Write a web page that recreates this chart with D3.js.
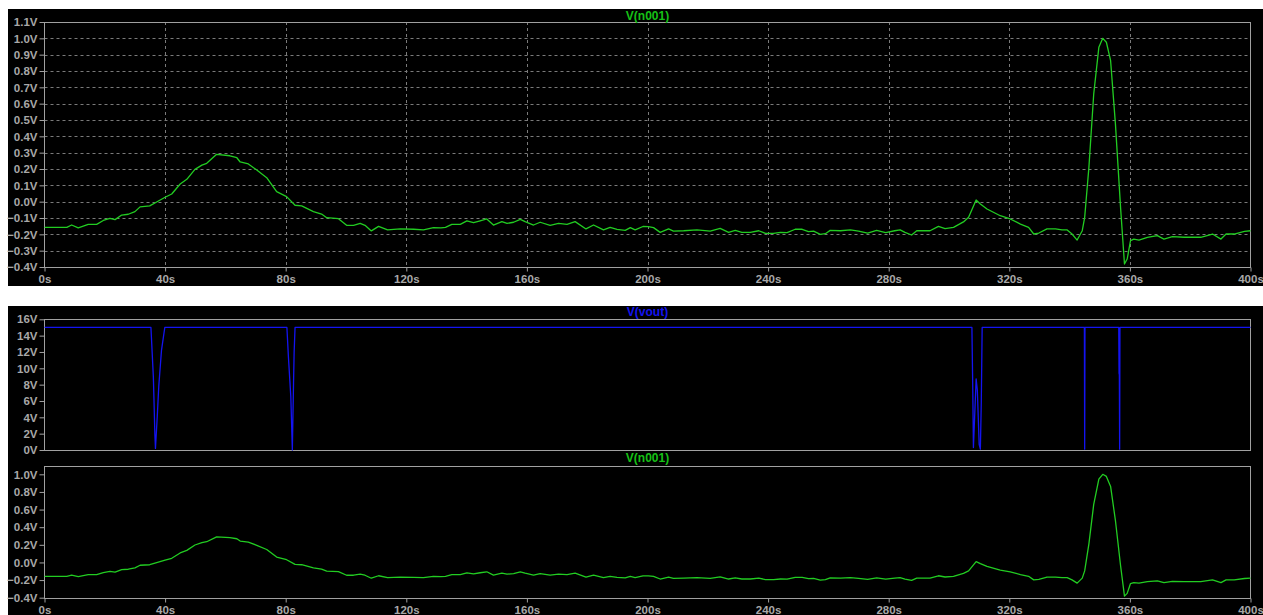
<!DOCTYPE html>
<html>
<head>
<meta charset="utf-8">
<script src="https://cdn.jsdelivr.net/npm/d3@7"></script>
<style>
  html, body { margin: 0; padding: 0; background: #ffffff; }
  svg { display: block; }
</style>
</head>
<body>
<svg id="chart" width="1263" height="615"></svg>
<script>
// ---- simulation traces ----
const timeTicks = [0, 40, 80, 120, 160, 200, 240, 280, 320, 360, 400];

const n001Time = [
  0, 7.4, 9, 11.2, 14.5, 17.3, 19.5, 21.7, 23.4, 25.6, 27.8, 30, 31.7, 34.9, 37.2,
  40, 42.2, 45, 47.2, 49.9, 52.2, 53.8, 57.1, 61.5, 63.8, 64.9, 67.6, 70.4, 73.7, 77,
  80.3, 83.1, 85.3, 89.2, 91.9, 93.6, 97.5, 100.2, 102.5, 104.7, 106.3, 108.4, 110.8, 113.8, 118,
  122.4, 125.7, 129, 131.5, 133, 135.1, 137.9, 140.1, 142.3, 144.5, 146.7, 148.9, 151.7, 153.4, 155.6,
  157.8, 159.4, 162.2, 164.4, 167.7, 170.5, 173.3, 176, 179.6, 182.1, 185.4, 187.6, 189.9, 192.6, 194.3,
  195.9, 198.5, 200.3, 202, 204.2, 207, 208.6, 212, 216.4, 220.8, 224.1, 226.9, 229.1, 231.3, 234.1,
  236.9, 239.1, 241.8, 244.1, 246.3, 249, 251.3, 253.4, 255.1, 257.3, 259, 260.6, 264, 267.3, 270,
  273, 276, 279, 282, 283.8, 285.4, 287.6, 289.3, 293.7, 296.5, 298.7, 301.5, 304.8, 306.5, 309,
  310.4, 312.6, 317, 320.3, 323.7, 326.4, 328.1, 329.8, 332.5, 335.3, 337.5, 339.2, 340.8, 342.5, 344.2,
  345, 346.4, 348, 349.7, 351, 352.2, 353.6, 355.2, 356.9, 358.2, 359.1, 360.2, 361.3, 363, 365.8,
  369.1, 371.3, 374.1, 378, 383.5, 387.4, 390.2, 391.9, 394.6, 398, 400
];
const n001Volt = [
  -0.157, -0.157, -0.143, -0.161, -0.139, -0.139, -0.115, -0.102, -0.110, -0.082, -0.077, -0.061, -0.032, -0.026, -0.002,
  0.027, 0.047, 0.108, 0.137, 0.198, 0.224, 0.235, 0.290, 0.281, 0.269, 0.243, 0.231, 0.194, 0.147, 0.061,
  0.031, -0.022, -0.026, -0.061, -0.076, -0.098, -0.104, -0.145, -0.145, -0.133, -0.145, -0.179, -0.151, -0.173, -0.166,
  -0.169, -0.173, -0.159, -0.161, -0.157, -0.139, -0.139, -0.118, -0.129, -0.117, -0.106, -0.143, -0.122, -0.133, -0.126,
  -0.108, -0.122, -0.143, -0.126, -0.145, -0.133, -0.139, -0.122, -0.167, -0.143, -0.173, -0.157, -0.169, -0.176, -0.159,
  -0.173, -0.152, -0.153, -0.159, -0.188, -0.167, -0.180, -0.178, -0.173, -0.180, -0.163, -0.188, -0.176, -0.188, -0.188,
  -0.178, -0.194, -0.194, -0.188, -0.190, -0.169, -0.169, -0.184, -0.180, -0.200, -0.196, -0.176, -0.178, -0.173, -0.180,
  -0.192, -0.176, -0.190, -0.178, -0.173, -0.188, -0.204, -0.178, -0.178, -0.151, -0.165, -0.157, -0.124, -0.096, 0.010,
  -0.014, -0.045, -0.086, -0.106, -0.137, -0.157, -0.198, -0.192, -0.167, -0.167, -0.173, -0.173, -0.198, -0.235, -0.178,
  -0.096, 0.210, 0.659, 0.945, 1.000, 0.976, 0.863, 0.476, -0.035, -0.382, -0.351, -0.239, -0.229, -0.235, -0.218,
  -0.208, -0.229, -0.214, -0.218, -0.218, -0.198, -0.229, -0.198, -0.198, -0.182, -0.178
];

const voutTime = [
  0, 35.3, 36.1, 36.3, 36.6, 36.8, 37.4, 37.9, 38.8, 39.9,
  80.4, 80.9, 81.7, 82.2, 82.6, 82.8, 83.1,
  307.6, 307.9, 308.1, 308.5, 309, 309.4, 309.7, 310, 310.4, 310.7, 311,
  344.9, 345, 345.1,
  356.3, 356.4, 356.5, 356.6, 356.7, 400
];
const voutVolt = [
  15, 15, 9.0, 6.3, 2.0, 0.2, 4.1, 7.8, 12.2, 15,
  15, 11.4, 6.5, 0.0, 8.2, 12.0, 15,
  15, 6.9, 0.3, 4.0, 8.7, 7.3, 4.0, 0.7, 0.1, 5.7, 15,
  15, 0.1, 15,
  15, 9.4, 9.2, 0.1, 15, 15
];

const n001TicksFine = [1.1, 1.0, 0.9, 0.8, 0.7, 0.6, 0.5, 0.4, 0.3, 0.2, 0.1, 0.0, -0.1, -0.2, -0.3, -0.4];
const n001TicksCoarse = [1.0, 0.8, 0.6, 0.4, 0.2, 0.0, -0.2, -0.4];
const voutTicks = [16, 14, 12, 10, 8, 6, 4, 2, 0];

// ---- styling ----
const GREEN = "#22cc22";
const GREEN_TITLE = "#16c016";
const BLUE = "#1414f0";
const FRAME = "#a0a0a0";
const GRID = "#7a7a7a";
const LABEL = "#a8a8a8";
const FONT = "'Liberation Sans', Arial, sans-serif";

const svg = d3.select("#chart");

// two black plot windows
svg.append("rect").attr("x", 8).attr("y", 9).attr("width", 1255).attr("height", 277).attr("fill", "#000");
svg.append("rect").attr("x", 8).attr("y", 306).attr("width", 1255).attr("height", 309).attr("fill", "#000");

const x = d3.scaleLinear().domain([0, 400]).range([44.5, 1250.5]);

const n001 = n001Time.map((t, i) => [t, n001Volt[i]]);
const vout = voutTime.map((t, i) => [t, voutVolt[i]]);

function drawPane(cfg) {
  const y = d3.scaleLinear().domain(cfg.domain).range([cfg.bottom, cfg.top]);
  const g = svg.append("g");

  // grid
  if (cfg.grid) {
    g.append("g").selectAll("line.h")
      .data(cfg.yTicks.filter(v => v !== cfg.domain[0] && v !== cfg.domain[1]))
      .join("line")
      .attr("x1", x.range()[0]).attr("x2", x.range()[1])
      .attr("y1", d => Math.round(y(d)) + 0.5).attr("y2", d => Math.round(y(d)) + 0.5)
      .attr("stroke", GRID).attr("stroke-width", 1).attr("stroke-dasharray", "3,3");
    g.append("g").selectAll("line.v")
      .data(timeTicks.slice(1, -1))
      .join("line")
      .attr("x1", d => Math.round(x(d)) + 0.5).attr("x2", d => Math.round(x(d)) + 0.5)
      .attr("y1", cfg.top).attr("y2", cfg.bottom)
      .attr("stroke", GRID).attr("stroke-width", 1).attr("stroke-dasharray", "3,3");
  }

  // frame
  g.append("rect")
    .attr("x", x.range()[0]).attr("y", Math.round(cfg.top) + 0.5)
    .attr("width", x.range()[1] - x.range()[0])
    .attr("height", Math.round(cfg.bottom) - Math.round(cfg.top))
    .attr("fill", "none").attr("stroke", FRAME).attr("stroke-width", 1);

  // y axis
  const yAxis = d3.axisLeft(y).tickValues(cfg.yTicks).tickSize(5).tickPadding(2)
    .tickFormat(cfg.yFormat);
  const ya = g.append("g").attr("transform", `translate(${x.range()[0]},0)`).call(yAxis);
  ya.select(".domain").remove();
  ya.selectAll(".tick line").attr("stroke", FRAME);
  ya.selectAll(".tick text").attr("fill", LABEL)
    .style("font-family", FONT).style("font-weight", "bold").style("font-size", "11.5px");

  // x axis
  if (cfg.xLabels) {
    const xAxis = d3.axisBottom(x).tickValues(timeTicks).tickSize(4).tickPadding(3)
      .tickFormat(d => d + "s");
    const xa = g.append("g").attr("transform", `translate(0,${Math.round(cfg.bottom) + 0.5})`).call(xAxis);
    xa.select(".domain").remove();
    xa.selectAll(".tick line").attr("stroke", FRAME);
    xa.selectAll(".tick text").attr("fill", LABEL)
      .style("font-family", FONT).style("font-weight", "bold").style("font-size", "11.5px");
  }

  // trace
  const line = d3.line().x(d => x(d[0])).y(d => y(d[1]));
  g.append("path").datum(cfg.data)
    .attr("d", line).attr("fill", "none")
    .attr("stroke", cfg.color).attr("stroke-width", 1.3).attr("stroke-linejoin", "round");

  // title
  g.append("text")
    .attr("x", (x.range()[0] + x.range()[1]) / 2).attr("y", cfg.titleY)
    .attr("text-anchor", "middle")
    .attr("fill", cfg.titleColor)
    .style("font-family", FONT).style("font-weight", "bold").style("font-size", "12px")
    .text(cfg.title);
}

const fmtV = d => d3.format(".1f")(d) + "V";

drawPane({
  top: 22, bottom: 267, domain: [-0.4, 1.1], yTicks: n001TicksFine, yFormat: fmtV,
  grid: true, xLabels: true, data: n001, color: GREEN, title: "V(n001)", titleColor: GREEN_TITLE, titleY: 19.5
});

drawPane({
  top: 319.3, bottom: 450, domain: [0, 16], yTicks: voutTicks, yFormat: d => d + "V",
  grid: false, xLabels: false, data: vout, color: BLUE, title: "V(vout)", titleColor: BLUE, titleY: 316
});

drawPane({
  top: 465.5, bottom: 597.7, domain: [-0.4, 1.1], yTicks: n001TicksCoarse, yFormat: fmtV,
  grid: false, xLabels: true, data: n001, color: GREEN, title: "V(n001)", titleColor: GREEN_TITLE, titleY: 462
});
</script>
</body>
</html>
